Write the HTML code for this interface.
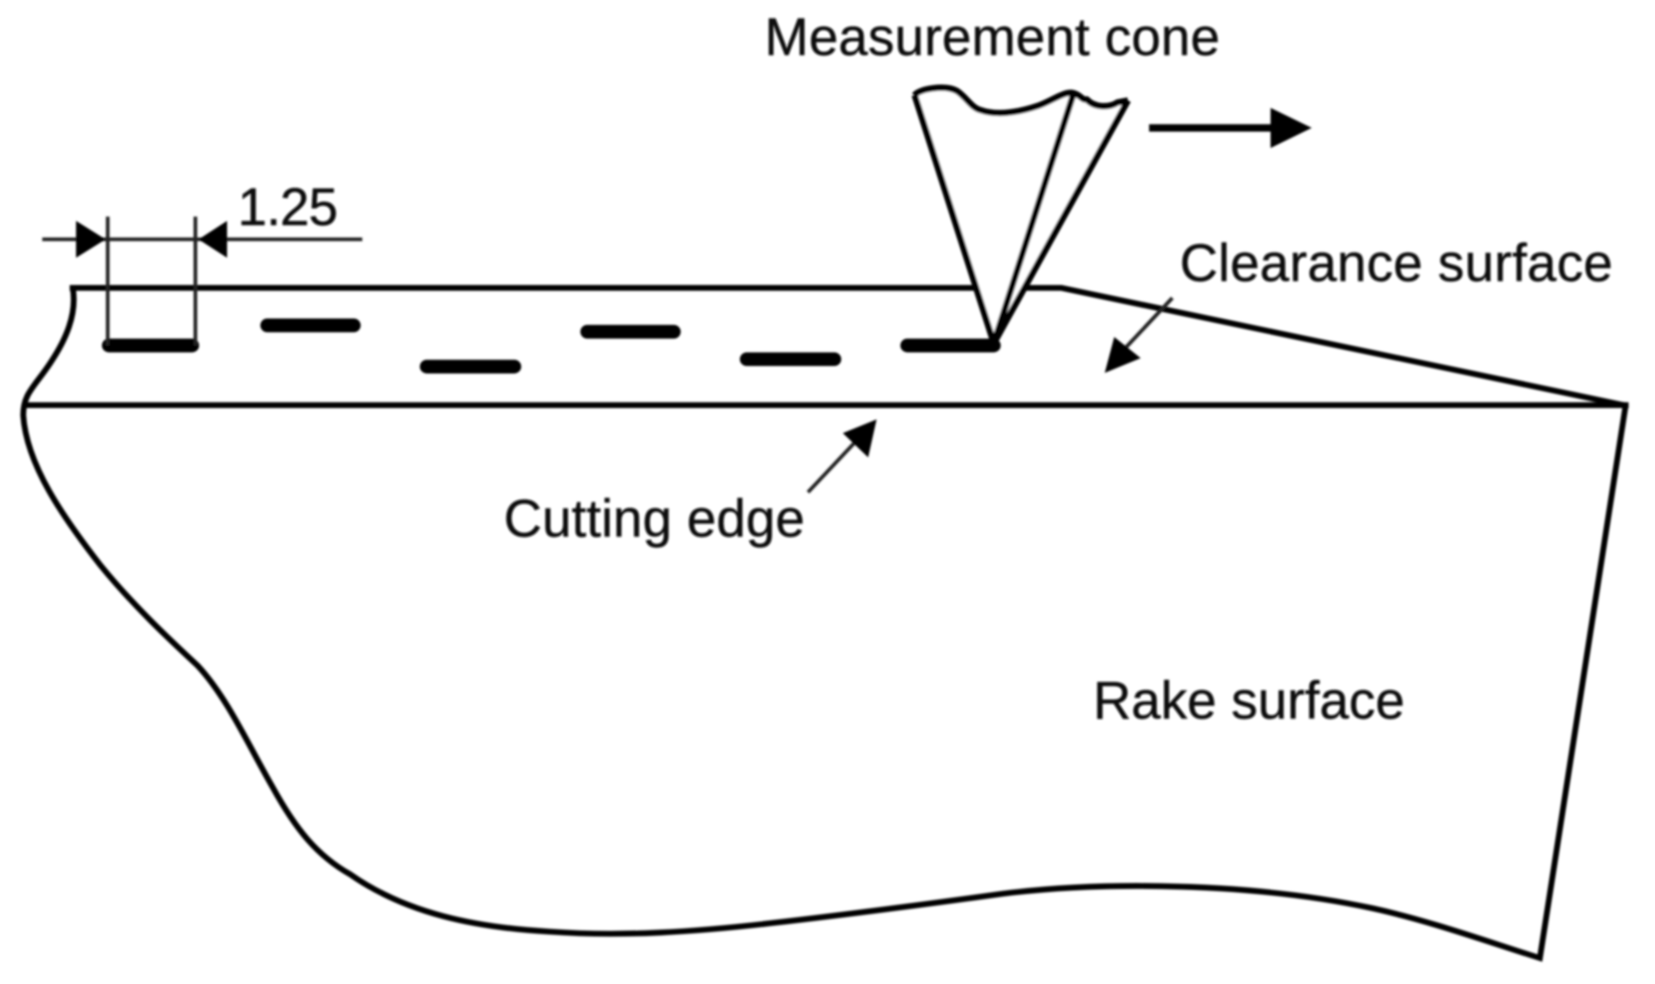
<!DOCTYPE html>
<html>
<head>
<meta charset="utf-8">
<style>
html,body{margin:0;padding:0;background:#fff;width:1655px;height:984px;overflow:hidden}
svg{display:block}
text{font-family:"Liberation Sans",Arial,sans-serif;font-size:50px;fill:#111;stroke:#111;stroke-width:.4px}
</style>
</head>
<body>
<svg width="1655" height="984" viewBox="0 0 1567 931.5" xmlns="http://www.w3.org/2000/svg">
<defs><filter id="b" x="-5%" y="-5%" width="110%" height="110%"><feGaussianBlur stdDeviation="0.9"/></filter></defs>
<rect width="1567" height="931.5" fill="#fff"/>
<g filter="url(#b)">
  <g fill="none" stroke="#000" stroke-width="5.5" stroke-linejoin="miter">
    <path d="M66,272.5 L1005,272.5 L1540,384"/>
    <path d="M22,383.5 L1542,383.5"/>
    <path d="M69,273 C73,298 62,322 48,343 C33,366 22,372 22,393 C25,440 60,490 95,535 C125,572 160,605 187,630 C215,660 235,705 258,745 C280,785 300,810 332,828 C385,865 450,878 520,882 C590,887 660,882 730,874 C800,866 870,857 950,846 C1000,840 1050,838 1100,839 C1160,840 1230,845 1300,860 C1355,872 1410,892 1458,907 L1539,385"/>
  </g>
  <g stroke="#000" stroke-width="13" stroke-linecap="round" fill="none">
    <path d="M103,327 H182"/>
    <path d="M253,308 H335"/>
    <path d="M404,347 H487"/>
    <path d="M556,314 H638"/>
    <path d="M707,340 H790"/>
    <path d="M859,327 H941"/>
  </g>
  <g stroke="#222" stroke-width="3.5" fill="none">
    <path d="M40,226.5 H343"/>
    <path d="M102,205 V327"/>
    <path d="M185,205 V327"/>
  </g>
  <path d="M72,209 L100,226.5 L72,244 Z" fill="#000"/>
  <path d="M188,226.5 L215,209 L215,244 Z" fill="#000"/>
  <path d="M866,90 C870,84 895,80 906,86 C915,92 920,102 928,104 C945,110 965,106 983,100 C995,96 1008,86 1016,88 C1024,90 1024,95 1029,94 C1036,102 1050,102 1058,97 L1068,95 L941,325 Z" fill="#fff" stroke="none"/>
  <g fill="none" stroke="#000" stroke-width="6" stroke-linejoin="round">
    <path d="M866,90 C870,84 895,80 906,86 C915,92 920,102 928,104 C945,110 965,106 983,100 C995,96 1008,86 1016,88 C1024,90 1024,95 1029,94 C1036,102 1050,102 1058,97 L1068,95"/>
    <path d="M866,90 L941,325"/>
    <path d="M1016,90 L941,325"/>
    <path d="M1068,95 L941,325"/>
  </g>
  <path d="M1088,121 H1206" stroke="#000" stroke-width="7" fill="none"/>
  <path d="M1203,102 L1242,121 L1203,140 Z" fill="#000"/>
  <path d="M1110,282 L1064,331" stroke="#222" stroke-width="3.5" fill="none"/>
  <path d="M1046,353 L1055,319 L1080,339 Z" fill="#000"/>
  <path d="M765,466 L812,416" stroke="#222" stroke-width="3.5" fill="none"/>
  <path d="M830,397 L798,410 L822,433 Z" fill="#000"/>
  <text x="724" y="52" textLength="431" lengthAdjust="spacing">Measurement cone</text>
  <text x="1117" y="266" textLength="410" lengthAdjust="spacing">Clearance surface</text>
  <text x="477" y="508" textLength="285" lengthAdjust="spacing">Cutting edge</text>
  <text x="1035" y="680" textLength="295" lengthAdjust="spacing">Rake surface</text>
  <text x="225" y="213" textLength="95" lengthAdjust="spacing">1.25</text>
</g>
</svg>
</body>
</html>
